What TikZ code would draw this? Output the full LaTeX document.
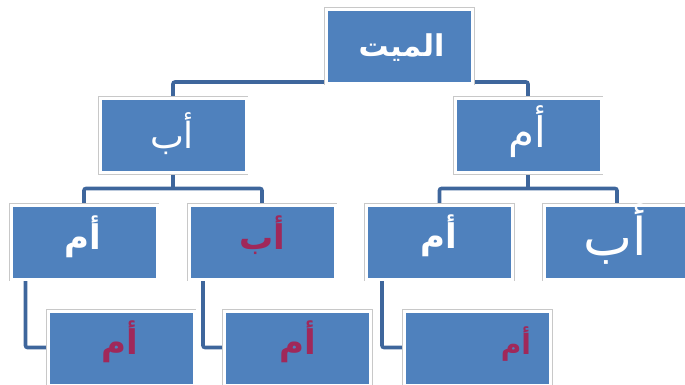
\documentclass[tikz,border=0pt]{standalone}
\usepackage{fontspec}
\usetikzlibrary{backgrounds}
\newfontfamily\arabicfont[Script=Arabic]{DejaVu Sans}
\TeXXeTstate=1
\definecolor{boxblue}{RGB}{79,129,189}
\definecolor{connblue}{RGB}{62,102,156}
\definecolor{txtred}{RGB}{160,40,90}
\definecolor{rimgray}{RGB}{200,200,200}
\tikzset{
  orgbox/.style={rectangle, minimum width=146pt, minimum height=74pt, inner sep=0pt,
    fill=boxblue, draw=white, line width=3pt,
    preaction={draw=rimgray, line width=4.8pt}},
  conn/.style={draw=connblue, line width=3.6pt, rounded corners=2pt},
  ar/.style={font=\arabicfont\fontsize{#1}{#1}\selectfont, text=white},
  arb/.style={font=\arabicfont\bfseries\fontsize{#1}{#1}\selectfont, text=white},
  red/.style={text=txtred}
}
\begin{document}
\begin{tikzpicture}[x=1pt,y=-1pt]
\useasboundingbox (0,0) rectangle (685,384);
% boxes
\node[orgbox] (top) at (399.5,46) {};
\node[orgbox] (L2a) at (173,135.5) {};
\node[orgbox] (L2b) at (528,135.5) {};
\node[orgbox] (L3a) at (84,242) {};
\node[orgbox] (L3b) at (262,242) {};
\node[orgbox] (L3c) at (439.5,242) {};
\node[orgbox] (L3d) at (617,242) {};
\node[orgbox] (L4a) at (121,348) {};
\node[orgbox] (L4b) at (297.5,348) {};
\node[orgbox] (L4c) at (477.5,348) {};
% connector helper coordinates
\coordinate (h1) at (0,82);
\coordinate (h2) at (0,188.5);
\coordinate (h3) at (0,347.5);
\coordinate (vA) at (25.5,0);
\coordinate (vB) at (203,0);
\coordinate (vC) at (382,0);
\begin{pgfonlayer}{background}
  \draw[conn] (top.south) -- (top.south |- h1);
  \draw[conn] (L2a.north) -- (L2a.north |- h1) -- (L2b.north |- h1) -- (L2b.north);
  \draw[conn] (L2a.south) -- (L2a.south |- h2);
  \draw[conn] (L3a.north) -- (L3a.north |- h2) -- (L3b.north |- h2) -- (L3b.north);
  \draw[conn] (L2b.south) -- (L2b.south |- h2);
  \draw[conn] (L3c.north) -- (L3c.north |- h2) -- (L3d.north |- h2) -- (L3d.north);
  \draw[conn] (vA |- L3a.south) -- (vA |- h3) -- (L4a.west |- h3);
  \draw[conn] (vB |- L3b.south) -- (vB |- h3) -- (L4b.west |- h3);
  \draw[conn] (vC |- L3c.south) -- (vC |- h3) -- (L4c.west |- h3);
\end{pgfonlayer}
% labels
\node[arb=30pt] (tTop) at (401.5,48) {\beginR الميت\endR};
\node[ar=36pt] (tL2a) at (172,134) {\beginR أب\endR};
\node[ar=42pt] (tL2b) at (527,132) {\beginR أم\endR};
\node[arb=34pt] (tL3a) at (83,237) {\beginR أم\endR};
\node[arb=34pt,red] (tL3b) at (262,235) {\beginR أب\endR};
\node[arb=34pt] (tL3c) at (439,236) {\beginR أم\endR};
\node[ar=52pt] (tL3d) at (615,234) {\beginR أب\endR};
\node[arb=34pt,red] (tL4a) at (120,342) {\beginR أم\endR};
\node[arb=34pt,red] (tL4b) at (298,342) {\beginR أم\endR};
\node[arb=28pt,red] (tL4c) at (516,344) {\beginR أم\endR};
\end{tikzpicture}
\end{document}
